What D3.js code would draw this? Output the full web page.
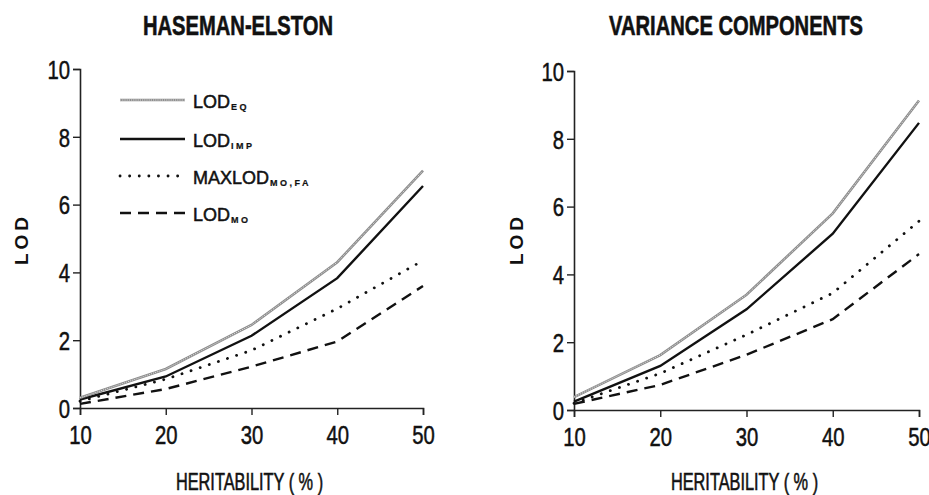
<!DOCTYPE html>
<html>
<head>
<meta charset="utf-8">
<script src="https://cdn.jsdelivr.net/npm/d3@7"></script>
<style>
body { margin:0; background:#fff; }
svg { display:block; }
text { font-family:"Liberation Sans", Arial, sans-serif; }
</style>
</head>
<body>
<div id="chart"></div>
<script>
(function(){
var width = 929,
	height = 495;

var heritability = [10,20,30,40,50],
	xticks = [10,20,30,40,50],
	yticks = [0,2,4,6,8,10];

var he_eq = [0.30,1.15,2.45,4.30,7.00],
	he_imp = [0.25,0.93,2.13,3.83,6.55],
	he_max = [0.20,0.85,1.70,2.93,4.35],
	he_mo = [0.12,0.56,1.22,1.96,3.60];

var vc_eq = [0.38,1.62,3.40,5.80,9.13],
	vc_imp = [0.25,1.30,2.97,5.20,8.47],
	vc_max = [0.20,1.08,2.22,3.45,5.57],
	vc_mo = [0.18,0.74,1.63,2.68,4.60];

var legend_names = ["LOD","LOD","MAXLOD","LOD"],
	legend_subs = ["EQ","IMP","MO,FA","MO"];

var panels = [
	{title:"HASEMAN-ELSTON", tx:238, xr:[80,423], yr:[408,69], lodx:21, series:[he_eq,he_imp,he_max,he_mo], legend:true},
	{title:"VARIANCE COMPONENTS", tx:736, xr:[574,919], yr:[410,71], lodx:516, series:[vc_eq,vc_imp,vc_max,vc_mo], legend:false}
];

var svg = d3.select("#chart").append("svg")
	.attr("width",width)
	.attr("height",height);

// squeeze a text horizontally, the original uses a condensed face
function condense(sel,ratio){
	sel.each(function(){
		var w = this.getComputedTextLength();
		d3.select(this).attr("textLength",w*ratio).attr("lengthAdjust","spacingAndGlyphs");
	});
}

// line styles: eq, imp, max, mo
function styleLine(sel,k){
	if (k==1) sel.attr("stroke","#111").attr("stroke-width",2.4);
	if (k==2) sel.attr("stroke","#111").attr("stroke-width",2.8).attr("stroke-dasharray","0.1,9.5").attr("stroke-linecap","round");
	if (k==3) sel.attr("stroke","#111").attr("stroke-width",2.4).attr("stroke-dasharray","11,7");
}

function drawSeries(g,line,vals,k){
	if (k==0) {
		g.append("path").datum(vals).attr("d",line).attr("fill","none")
			.attr("stroke","#8c8c8c").attr("stroke-width",2.6);
		g.append("path").datum(vals).attr("d",line).attr("fill","none")
			.attr("stroke","#ddd").attr("stroke-width",1).attr("stroke-dasharray","1.2,1");
	} else {
		g.append("path").datum(vals).attr("d",line).attr("fill","none").call(styleLine,k);
	}
}

panels.forEach(function(p){
	var X = d3.scaleLinear().domain([10,50]).range(p.xr);
	var Y = d3.scaleLinear().domain([0,10]).range(p.yr);
	var g = svg.append("g");

	var xa = g.append("g").attr("transform","translate(0,"+Y(0)+")")
		.call(d3.axisBottom(X).tickValues(xticks).tickSize(7).tickPadding(10).tickFormat(d3.format("d")));
	var ya = g.append("g").attr("transform","translate("+X(10)+",0)")
		.call(d3.axisLeft(Y).tickValues(yticks).tickSize(7).tickPadding(3).tickFormat(d3.format("d")));
	[xa,ya].forEach(function(a){
		a.attr("font-family",null).attr("font-size",null);
		a.select(".domain").attr("stroke","#222").attr("stroke-width",1.6);
		a.selectAll(".tick line").attr("stroke","#222").attr("stroke-width",1.4);
		a.selectAll("text").attr("fill","#111").attr("font-size",26)
			.attr("stroke","#111").attr("stroke-width",0.5)
			.call(condense,0.78);
	});
	ya.selectAll("text").attr("dy","0.36em");
	xa.selectAll("text").attr("dy","0.72em");

	var line = d3.line().x(function(d,i){return X(heritability[i])}).y(function(d){return Y(d)});
	// draw bottom series first so the gray line sits on top
	[3,2,1,0].forEach(function(k){ drawSeries(g,line,p.series[k],k); });

	var cx = (p.xr[0]+p.xr[1])/2;
	g.append("text")
		.attr("x",p.tx).attr("y",35)
		.attr("text-anchor","middle").attr("font-size",28).attr("font-weight","bold")
		.attr("stroke","#111").attr("stroke-width",0.6)
		.attr("fill","#111").text(p.title)
		.call(condense,0.72);

	g.append("text")
		.attr("x",cx-2).attr("y",490)
		.attr("text-anchor","middle").attr("font-size",24)
		.attr("stroke","#111").attr("stroke-width",0.6)
		.attr("fill","#111").text("HERITABILITY ( % )")
		.call(condense,0.68);

	g.append("text")
		.attr("transform","translate("+(p.lodx+7)+",239) rotate(-90)")
		.attr("text-anchor","middle")
		.attr("font-size",19).attr("font-weight","bold").attr("letter-spacing",4)
		.attr("fill","#111").text("LOD");

	if (p.legend) {
		var rows = [100,139,176,213];
		rows.forEach(function(y,k){
			var lx = [120,185];
			var lvals = [y,y];
			var ll = d3.line().x(function(d,i){return lx[i]}).y(function(d){return d});
			drawSeries(g,ll,lvals,k);
			var t = g.append("text").attr("x",193).attr("y",y+8)
				.attr("font-size",18).attr("fill","#111")
				.attr("stroke","#111").attr("stroke-width",0.5);
			t.append("tspan").text(legend_names[k]);
			t.append("tspan").attr("font-size",9).attr("font-weight","bold").attr("stroke-width",0.2)
				.attr("dy",2).attr("dx",1).attr("letter-spacing",2.5).text(legend_subs[k]);
		});
	}
});
})()
</script>
</body>
</html>
